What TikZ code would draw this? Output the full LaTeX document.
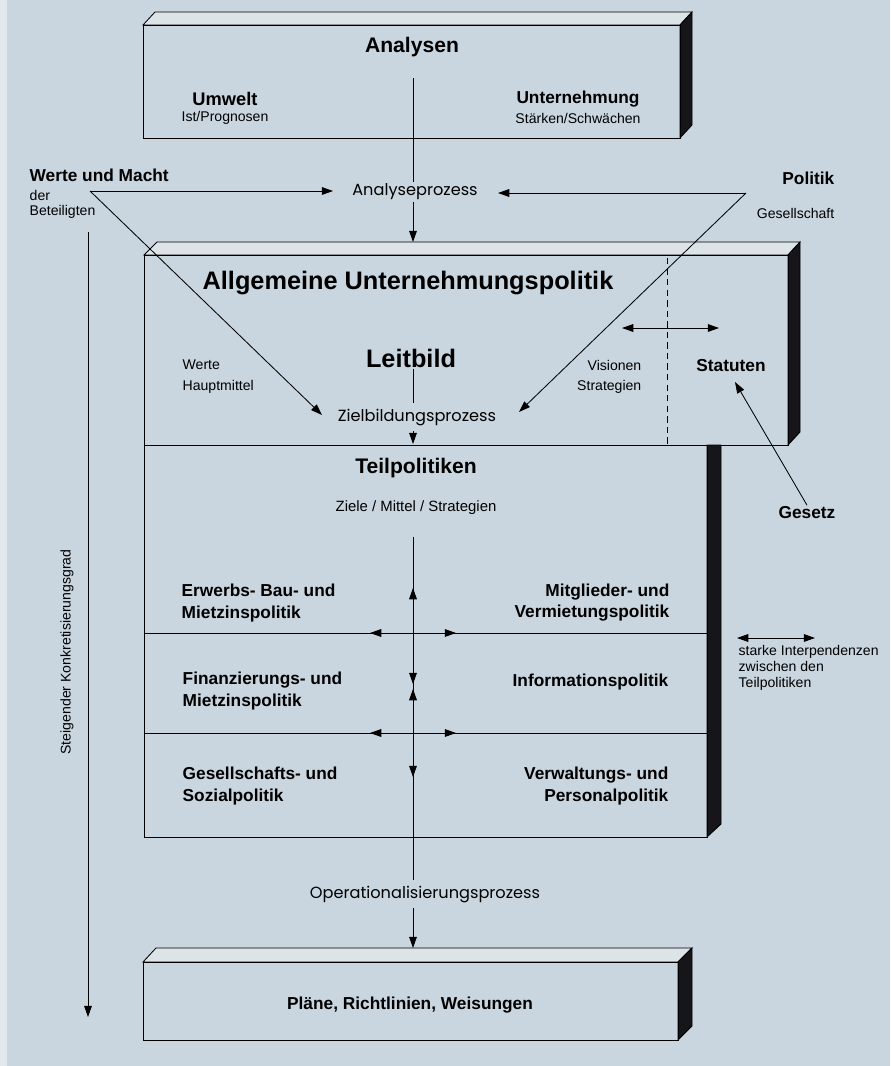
\documentclass[tikz,border=0pt]{standalone}
\usepackage{fontspec}
\setmainfont{Liberation Sans}
\newfontfamily\prozfont{Poppins}
\usetikzlibrary{arrows.meta}
\usetikzlibrary{positioning}
\definecolor{paper}{RGB}{202,214,223}
\definecolor{topgray}{RGB}{221,228,232}
\definecolor{sideblack}{RGB}{22,22,26}
\tikzset{
    titlel/.style = {font=\bfseries\fontsize{18}{21}\selectfont, inner sep=1pt},
    titlem/.style = {font=\bfseries\fontsize{15}{18}\selectfont, inner sep=1pt},
    boldtxt/.style = {font=\bfseries\fontsize{12.3}{15}\selectfont, inner sep=1pt},
    smalltxt/.style = {font=\fontsize{10}{11.6}\selectfont, inner sep=1pt},
    proztxt/.style = {font=\prozfont\fontsize{11.5}{13}\selectfont, inner sep=1pt},
    faceg/.style = {draw=black, line width=0.6pt, fill=topgray},
    faceb/.style = {draw=black, line width=0.6pt, fill=sideblack},
    frontn/.style = {draw=black, line width=0.7pt},
    edgen/.style = {-, line width=0.6pt, black},
    edgea/.style = {-{Triangle[length=8pt,width=5.5pt]}, line width=0.6pt, black},
    edgeaa/.style = {{Triangle[length=8pt,width=5.5pt]}-{Triangle[length=8pt,width=5.5pt]}, line width=0.6pt, black},
    edgegd/.style = {-, line width=0.6pt, black, dash pattern=on 4.5pt off 3pt}, % border
}
\begin{document}
\begin{tikzpicture}[x=0.025cm, y=-0.025cm]
  \useasboundingbox (0,0) rectangle (890,1066);
  \fill[paper] (0,0) rectangle (890,1066);
  \fill[paper!55!white] (0,0) rectangle (7,1066);

  % Analysen
  \draw[faceg] (143,25) -- (155,12) -- (692,12) -- (680,25) -- cycle;
  \draw[faceb] (680,25) -- (692,12) -- (692,125) -- (680,138) -- cycle;
  \draw[frontn] (143,25) rectangle (680,138);
  % Allgemeine Unternehmungspolitik
  \draw[faceg] (144,255) -- (157,242) -- (800,242) -- (788,255) -- cycle;
  \draw[faceb] (788,255) -- (800,242) -- (800,432) -- (788,445) -- cycle;
  \draw[frontn] (144,255) rectangle (788,445);
  % Teilpolitiken
  \draw[faceb] (707,445) -- (721,445) -- (721,824) -- (707,837) -- cycle;
  \draw[frontn] (144,445) rectangle (707,837);
  % Plaene
  \draw[faceg] (143,962) -- (156,948) -- (692,948) -- (678,962) -- cycle;
  \draw[faceb] (678,962) -- (692,948) -- (692,1026) -- (678,1040) -- cycle;
  \draw[frontn] (143,962) rectangle (678,1040);

  \node[titlem] (analysen) at (412,47) {Analysen};
  \node[boldtxt, font=\bfseries\fontsize{13}{15}\selectfont] (umwelt) at (225,99) {Umwelt};
  \node[smalltxt] (umweltsub) at (225,118) {Ist/Prognosen};
  \node[boldtxt] (unternehmung) at (578,99) {Unternehmung};
  \node[smalltxt] (untsub) at (578,118) {Stärken/Schwächen};
  \coordinate (asplit) at (413,78);

  \node[boldtxt, anchor=west] (werte) at (28,175) {Werte und Macht};
  \node[smalltxt, anchor=west] (der) at (28,195) {der};
  \node[smalltxt, anchor=west] (beteiligten) at (28,212) {Beteiligten};
  \node[boldtxt, anchor=east] (politik) at (836,178) {Politik};
  \node[smalltxt, anchor=east] (gesellschaft) at (836,213) {Gesellschaft};
  \coordinate (wsrc) at (90,191);
  \coordinate (psrc) at (746,193);

  \node[proztxt] (analyse) at (415,192) {Analyseprozess};
  \coordinate (atip) at (413,242);
  \coordinate (awtip) at (333,191);
  \coordinate (aetip) at (498,193);
  \draw[edgen] (asplit) -- (asplit |- analyse.north);
  \draw[edgea] (analyse.south -| asplit) -- (atip);
  \draw[edgea] (wsrc) -- (awtip);
  \draw[edgea] (psrc) -- (aetip);

  \node[titlel] (allgemeine) at (408,283) {Allgemeine Unternehmungspolitik};
  \node[titlel] (leitbild) at (411,358) {Leitbild};
  \node[smalltxt, anchor=west] (werteb) at (181,365) {Werte};
  \node[smalltxt, anchor=west] (hauptmittel) at (181,387) {Hauptmittel};
  \node[smalltxt, anchor=east] (visionen) at (643,365) {Visionen};
  \node[smalltxt, anchor=east] (strategien) at (643,387) {Strategien};
  \node[boldtxt] (statuten) at (731,366) {Statuten};
  \node[proztxt] (zielbildung) at (417,418) {Zielbildungsprozess};
  \coordinate (zltip) at (322,415);
  \coordinate (zrtip) at (519,412);
  \coordinate (ztip) at (413,444);
  \draw[edgen] (leitbild.south -| asplit) -- (413,403);
  \draw[edgea] (413,431) -- (ztip);
  \draw[edgea] (wsrc) -- (zltip);
  \draw[edgea] (psrc) -- (zrtip);
  \draw[edgegd] (667,258) -- (667,445);
  \draw[edgeaa] (622,328) -- (719,328);

  \node[boldtxt] (gesetz) at (807,513) {Gesetz};
  \coordinate (stip) at (735,382);
  \draw[edgea] (gesetz.north) -- (stip);

  \node[titlem] (teilpolitiken) at (416,468) {Teilpolitiken};
  \node[smalltxt, font=\fontsize{10.6}{12}\selectfont] (ziele) at (416,508) {Ziele / Mittel / Strategien};
  \node[boldtxt, anchor=west, align=left] (erwerbs) at (180,603) {Erwerbs- Bau- und\\Mietzinspolitik};
  \node[boldtxt, anchor=east, align=right] (mitglieder) at (671,603) {Mitglieder- und\\Vermietungspolitik};
  \node[boldtxt, anchor=west, align=left] (finanz) at (181,691) {Finanzierungs- und\\Mietzinspolitik};
  \node[boldtxt, anchor=east] (info) at (670,682) {Informationspolitik};
  \node[boldtxt, anchor=west, align=left] (gesellschaftp) at (181,786) {Gesellschafts- und\\Sozialpolitik};
  \node[boldtxt, anchor=east, align=right] (verwaltung) at (670,786) {Verwaltungs- und\\Personalpolitik};

  % interdependencies
  \foreach \yy in {633,733} {
    \draw[edgen] (144,\yy) -- (707,\yy);
    \draw[edgea] (413,\yy) -- (370,\yy);
    \draw[edgea] (413,\yy) -- (456,\yy);
  }
  \draw[edgen] (413,537) -- (413,880);
  \draw[edgea] (413,612) -- (413,588);
  \draw[edgea] (413,662) -- (413,684);
  \draw[edgea] (413,712) -- (413,689);
  \draw[edgea] (413,755) -- (413,777);
  \node[smalltxt, anchor=west, align=left] (interdep) at (737,668) {starke Interpendenzen\\zwischen den\\Teilpolitiken};
  \draw[edgeaa] (737,638) -- (815,638);

  \node[proztxt] (operational) at (425,895) {Operationalisierungsprozess};
  \coordinate (otip) at (413,948);
  \draw[edgea] (413,908) -- (otip);
  \node[boldtxt] (plaene) at (410,1005) {Pläne, Richtlinien, Weisungen};

  \node[smalltxt, rotate=90] (steigender) at (67,652) {Steigender Konkretisierungsgrad};
  \coordinate (ktop) at (88,232);
  \coordinate (ktip) at (88,1017);
  \draw[edgea] (ktop) -- (ktip);
\end{tikzpicture}
\end{document}
